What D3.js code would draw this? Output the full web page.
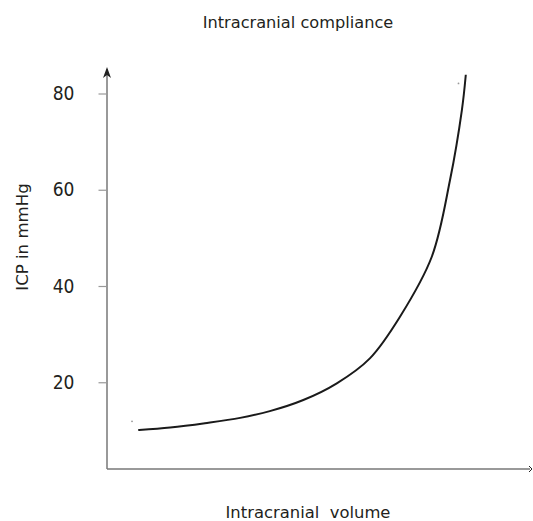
<!DOCTYPE html>
<html><head><meta charset="utf-8">
<script src="https://cdn.jsdelivr.net/npm/d3@7"></script>
<style>body{margin:0;background:#fff}svg{display:block}</style>
</head><body>
<script>
const title = "Intracranial compliance";
const xLabel = "Intracranial\u00a0\u00a0volume";
const yLabel = "ICP in mmHg";
const yTicks = [20, 40, 60, 80];
const volume = [7.6, 14.9, 23.1, 31.4, 38.4, 46.3, 54.2, 62.0, 69.1, 76.6, 80.9, 83.7, 84.6];
const icp    = [10.07, 10.6, 11.5, 12.6, 14.0, 16.31, 19.78, 24.97, 33.62, 46.08, 62.02, 76.56, 83.69];
const dotVolume = [5.9, 82.9];
const dotIcp = [11.88, 82.1];

const W = 533, H = 521;
const svg = d3.select("body").append("svg").attr("width", W).attr("height", H);
const x = d3.scaleLinear().domain([0, 100]).range([107, 531]);
const y = d3.scaleLinear().domain([0, 80]).range([478.5, 93.5]);
const font = "'DejaVu Sans', Verdana, sans-serif";
const tickFont = "'DejaVu Sans Condensed', 'DejaVu Sans', sans-serif";

// axes lines
const axisColor = "#555";
svg.append("line").attr("x1", x(0)).attr("x2", x(0)).attr("y1", 69).attr("y2", 469)
  .attr("stroke", axisColor).attr("stroke-width", 1.2);
svg.append("line").attr("x1", x(0)).attr("x2", 530).attr("y1", 469).attr("y2", 469)
  .attr("stroke", "#777").attr("stroke-width", 1.5);
// arrowheads
svg.append("path").attr("d", `M${x(0)-4},78 L${x(0)},67 L${x(0)+4},78 L${x(0)},75 Z`).attr("fill", "#222");
svg.append("path").attr("d", `M529,466 L532,469 L529,472`).attr("fill", "none").attr("stroke", "#222").attr("stroke-width", 1);

// y ticks
const yAxis = d3.axisLeft(y).tickValues(yTicks).tickSize(8).tickPadding(24);
const gy = svg.append("g").attr("transform", `translate(${x(0) - 0.5},0)`).call(yAxis);
gy.select(".domain").remove();
gy.selectAll(".tick line").attr("stroke", "#999").attr("stroke-width", 1.2);
gy.selectAll(".tick text").attr("font-family", tickFont).attr("font-size", 19).attr("fill", "#231f20");

// curve
const pts = volume.map((v, i) => [v, icp[i]]);
const line = d3.line().x(d => x(d[0])).y(d => y(d[1])).curve(d3.curveCatmullRom.alpha(0.5));
svg.append("path").attr("d", line(pts)).attr("fill", "none").attr("stroke", "#1a1a1a")
  .attr("stroke-width", 2).attr("stroke-linecap", "square");

// dots
svg.selectAll("circle.dot").data(dotVolume.map((v, i) => [v, dotIcp[i]])).join("circle")
  .attr("cx", d => x(d[0])).attr("cy", d => y(d[1])).attr("r", 0.9).attr("fill", "#999");

// texts
svg.append("text").attr("x", 298).attr("y", 28).attr("text-anchor", "middle")
  .attr("font-family", font).attr("font-size", 16.2).attr("fill", "#231f20").text(title);
svg.append("text").attr("x", 308).attr("y", 518).attr("text-anchor", "middle")
  .attr("font-family", font).attr("font-size", 16.4).attr("fill", "#231f20").text(xLabel);
svg.append("text").attr("transform", "translate(28,237) rotate(-90)").attr("text-anchor", "middle")
  .attr("font-family", font).attr("font-size", 16.6).attr("fill", "#231f20").text(yLabel);
</script>
</body></html>
